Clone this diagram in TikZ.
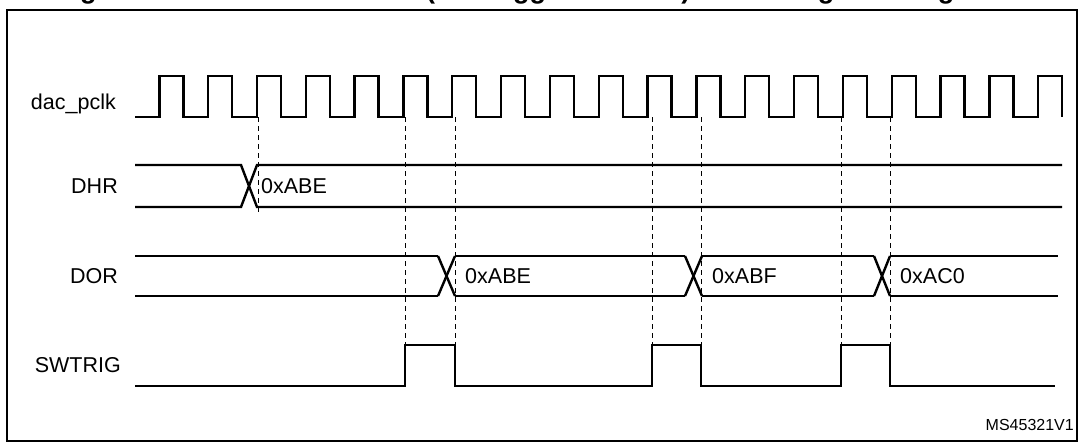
\documentclass[tikz,border=0pt]{standalone}
\usepackage{fontspec}
\setmainfont{Liberation Sans}
\begin{document}
\begin{tikzpicture}[x=1pt,y=-1pt,
    sig/.style={line width=2.4pt, line join=miter},
    edgemark/.style={dashed, dash pattern=on 5pt off 4pt, line width=1pt},
    lbl/.style={anchor=east, inner sep=0pt, font=\fontsize{21.5}{24}\selectfont},
    val/.style={anchor=west, inner sep=0pt, font=\fontsize{21.5}{24}\selectfont}]
	\useasboundingbox (0,0) rectangle (1079,442);
	% title, cut by the top edge
	\begin{scope}
		\clip (0,0) rectangle (1079,442);
		\node[anchor=south, inner sep=0pt, font=\bfseries\fontsize{27}{30}\selectfont] (title) at (566,8)
			{\strut Figure 239. DAC conversion (SW trigger enabled) with triangle wave generation};
	\end{scope}
	% frame
	\draw[line width=1.4pt] (7,441) -- (7,10) -- (1077,10) -- (1077,441) -- cycle;
	% signal names
	\node[lbl] (l_clk) at (116,104) {dac\_pclk};
	\node[lbl] (l_dhr) at (118,186) {DHR};
	\node[lbl] (l_dor) at (118,276) {DOR};
	\node[lbl] (l_sw)  at (121,365) {SWTRIG};
	% dac_pclk
	\def\period {48.83};
	\draw[sig] (135,117)
		\foreach \k in {0,...,17} {
			-- ({159.3+\k*\period},117) -- ({159.3+\k*\period},76)
			-- ({183.3+\k*\period},76) -- ({183.3+\k*\period},117)
		}
		-- ({159.3+18*\period},117) -- ({159.3+18*\period},76)
		-- (1062,76) -- (1062,117);
	% DHR
	\draw[sig] (135,165) -- (241,165) -- (257,207) -- (1062,207);
	\draw[sig] (135,207) -- (241,207) -- (257,165) -- (1062,165);
	\node[val] (v_dhr) at (261,186) {0xABE};
	% DOR
	\def\crosses {438/455/0xABE, 685/702/0xABF, 874/890/0xAC0};
	\draw[sig] (135,256) -- (438,256);
	\draw[sig] (135,296) -- (438,296);
	\foreach \a/\b/\v [count=\i] in \crosses
	{
		\draw[sig] (\a,256) -- (\b,296);
		\draw[sig] (\a,296) -- (\b,256);
		\node[val] (v_dor\i) at ({\b+10},276) {\v};
	}
	\draw[sig] (455,256) -- (685,256) (702,256) -- (874,256) (890,256) -- (1058,256);
	\draw[sig] (455,296) -- (685,296) (702,296) -- (874,296) (890,296) -- (1058,296);
	% SWTRIG
	\draw[sig] (135,386) -- (405,386) -- (405,345) -- (455,345) -- (455,386)
		-- (652,386) -- (652,345) -- (701,345) -- (701,386)
		-- (841,386) -- (841,345) -- (890,345) -- (890,386) -- (1055,386);
	% dashed markers
	\draw[edgemark] (258,117) -- (258,215);
	\foreach \x in {405,455,652,701,841,890}
	{
		\draw[edgemark] (\x,117) -- (\x,345);
	}
	\node[anchor=base east, inner sep=0pt, font=\fontsize{16}{18}\selectfont] (ref) at (1074,430) {MS45321V1};
\end{tikzpicture}
\end{document}
